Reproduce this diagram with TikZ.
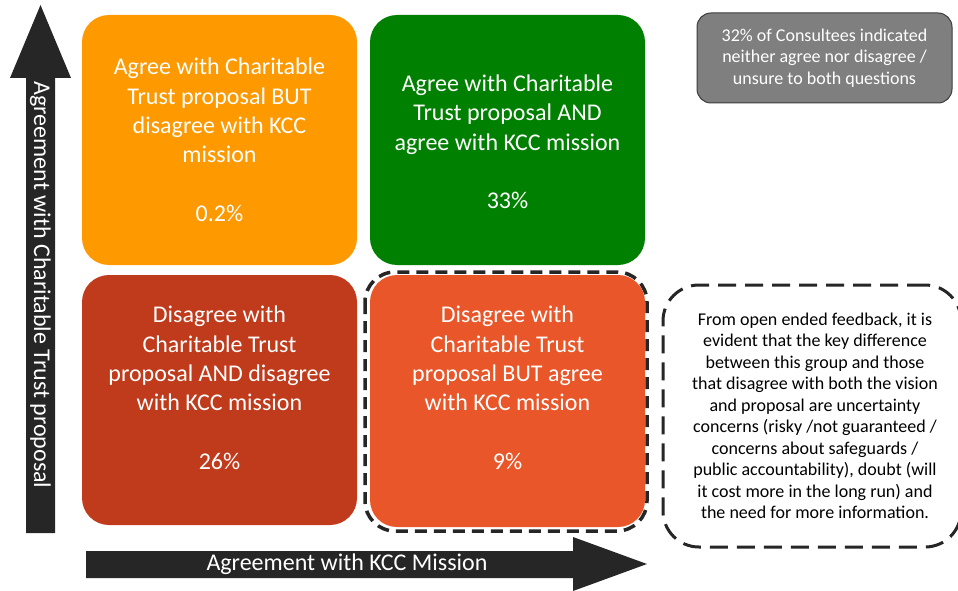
\documentclass[tikz,border=0pt]{standalone}
\usepackage{fontspec}
\setmainfont{Carlito}
\usepackage{xcolor}
\usepackage{tikz}

\definecolor{trustorange}{HTML}{FF9900}
\definecolor{bothgreen}{HTML}{008000}
\definecolor{neitherred}{HTML}{C03A1C}
\definecolor{missionred}{HTML}{E95629}
\definecolor{unsuregray}{HTML}{7F7F7F}
\definecolor{axisdark}{HTML}{262626}

\begin{document}
\begin{tikzpicture}[x=1pt, y=-1pt,
        quad/.style={rounded corners=27pt, minimum width=275pt, minimum height=250pt, inner sep=0pt},
        quadtext/.style={text=white, align=center, font=\fontsize{24}{29.3}\selectfont},
        notetext/.style={align=center, font=\fontsize{18}{21.6}\selectfont},
        axislabel/.style={text=white, font=\fontsize{24}{29}\selectfont}]
        \useasboundingbox (0, 0) rectangle (958, 591);

        % axes
        \fill[axisdark] (26, 533) -- (26, 78) -- (10, 78) -- (40.5, 5) -- (71, 78) -- (55, 78) -- (55, 533) -- cycle;
        \fill[axisdark] (86, 551) -- (573, 551) -- (573, 537) -- (647, 564) -- (573, 591) -- (573, 578) -- (86, 578) -- cycle;
        \node[axislabel, rotate=-90] (yaxislabel) at (40.5, 285) {Agreement with Charitable Trust proposal};
        \node[axislabel] (xaxislabel) at (347, 564) {Agreement with KCC Mission};

        % quadrants
        \node[quad, fill=trustorange] (trustbut) at (219.5, 140) {};
        \node[quad, fill=bothgreen] (trustand) at (507.5, 140) {};
        \node[quad, fill=neitherred] (neither) at (219.5, 400) {};
        \node[quad, fill=missionred, minimum height=252pt] (missionbut) at (507.5, 401) {};
        \draw[axisdark, line width=3.5pt, dash pattern=on 12pt off 7pt, rounded corners=30pt]
            (365, 272) rectangle (647, 531);

        \node[quadtext] (trustbuttext) at (trustbut.center) {Agree with Charitable\\Trust proposal BUT\\disagree with KCC\\mission\\[29.3pt]0.2\%};
        \node[quadtext] (trustandtext) at (507.5, 142) {Agree with Charitable\\Trust proposal AND\\agree with KCC mission\\[29.3pt]33\%};
        \node[quadtext] (neithertext) at (219.5, 388) {Disagree with\\Charitable Trust\\proposal AND disagree\\with KCC mission\\[29.3pt]26\%};
        \node[quadtext] (missionbuttext) at (507.5, 388) {Disagree with\\Charitable Trust\\proposal BUT agree\\with KCC mission\\[29.3pt]9\%};

        % notes
        \node[notetext, text=white, fill=unsuregray, draw=axisdark!90, line width=1pt, rounded corners=14pt,
            minimum width=255pt, minimum height=90pt] (unsure) at (824.5, 58)
            {32\% of Consultees indicated\\neither agree nor disagree /\\unsure to both questions};
        \node[draw=axisdark, line width=3pt, dash pattern=on 18pt off 9pt, rounded corners=36pt,
            minimum width=298pt, minimum height=262pt] (feedback) at (812, 416) {};
        \node[notetext, font=\fontsize{18}{21.5}\selectfont] (feedbacktext) at (815, 416)
            {From open ended feedback, it is\\evident that the key difference\\between this group and those\\that disagree with both the vision\\and proposal are uncertainty\\concerns (risky /not guaranteed /\\concerns about safeguards /\\public accountability), doubt (will\\it cost more in the long run) and\\the need for more information.};

    \end{tikzpicture}
\end{document}
